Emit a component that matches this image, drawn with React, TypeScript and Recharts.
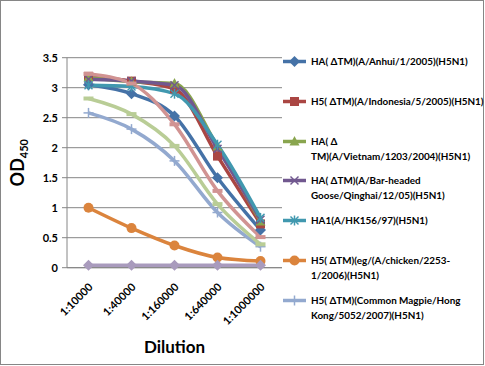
import { LineChart, Line, XAxis, YAxis, CartesianGrid, Legend } from 'recharts'

const dilutions = ['1:10000', '1:40000', '1:160000', '1:640000', '1:1000000']
const yTicks = [0, 0.5, 1, 1.5, 2, 2.5, 3, 3.5]

const anhui = [3.05, 2.9, 2.53, 1.5, 0.63]
const indonesia = [3.19, 3.11, 2.98, 1.86, 0.73]
const vietnam = [3.17, 3.1, 3.07, 2.02, 0.77]
const barHeaded = [3.14, 3.11, 3.04, 1.98, 0.8]
const hk156 = [3.04, 3.02, 2.9, 2.05, 0.83]
const chicken = [1.0, 0.66, 0.37, 0.17, 0.11]
const magpie = [2.58, 2.31, 1.78, 0.92, 0.35]
const series8 = [3.23, 3.07, 2.39, 1.28, 0.51]
const series9 = [2.82, 2.56, 2.03, 1.06, 0.39]
const series10 = [0.04, 0.04, 0.04, 0.04, 0.04]

const seriesNames = [
  'HA( ΔTM)(A/Anhui/1/2005)(H5N1)',
  'H5( ΔTM)(A/Indonesia/5/2005)(H5N1)',
  'HA( Δ\nTM)(A/Vietnam/1203/2004)(H5N1)',
  'HA( ΔTM)(A/Bar-headed\nGoose/Qinghai/12/05)(H5N1)',
  'HA1(A/HK156/97)(H5N1)',
  'H5( ΔTM)(eg/(A/chicken/2253-\n1/2006)(H5N1)',
  'H5( ΔTM)(Common Magpie/Hong\nKong/5052/2007)(H5N1)',
  'Series8',
  'Series9',
  'Series10',
]
const seriesValues = [anhui, indonesia, vietnam, barHeaded, hk156, chicken, magpie, series8, series9, series10]
const colors = ['#4572A7', '#AA4643', '#89A54E', '#71588F', '#4198AF', '#DB843D', '#93A9CF', '#D19392', '#B9CD96', '#A99BBD']
const shapes = ['diamond', 'square', 'triangle', 'x', 'star', 'circle', 'plus', 'dash', 'dash', 'diamond']
const legendCount = 7

const data = dilutions.map((d, i) => {
  const row: Record<string, string | number> = { dilution: d }
  seriesValues.forEach((vals, s) => {
    row['s' + s] = vals[i]
  })
  return row
})

const FONT = 'Lato, "Liberation Sans", sans-serif'

function Marker({ shape, cx, cy, color }: { shape: string; cx: number; cy: number; color: string }) {
  switch (shape) {
    case 'diamond':
      return <polygon points={`${cx},${cy - 5.5} ${cx + 5.5},${cy} ${cx},${cy + 5.5} ${cx - 5.5},${cy}`} fill={color} />
    case 'square':
      return <rect x={cx - 4.5} y={cy - 4.5} width={9} height={9} fill={color} />
    case 'triangle':
      return <polygon points={`${cx},${cy - 5.5} ${cx + 5},${cy + 4} ${cx - 5},${cy + 4}`} fill={color} />
    case 'x':
      return (
        <g stroke={color} strokeWidth={1.5}>
          <line x1={cx - 4} y1={cy - 4} x2={cx + 4} y2={cy + 4} />
          <line x1={cx - 4} y1={cy + 4} x2={cx + 4} y2={cy - 4} />
        </g>
      )
    case 'star':
      return (
        <g stroke={color} strokeWidth={1.5}>
          <line x1={cx - 4} y1={cy - 4} x2={cx + 4} y2={cy + 4} />
          <line x1={cx - 4} y1={cy + 4} x2={cx + 4} y2={cy - 4} />
          <line x1={cx} y1={cy - 5} x2={cx} y2={cy + 5} />
        </g>
      )
    case 'circle':
      return <circle cx={cx} cy={cy} r={5} fill={color} />
    case 'plus':
      return (
        <g stroke={color} strokeWidth={1.5}>
          <line x1={cx - 5} y1={cy} x2={cx + 5} y2={cy} />
          <line x1={cx} y1={cy - 5} x2={cx} y2={cy + 5} />
        </g>
      )
    case 'dash':
      return <line x1={cx - 5} y1={cy} x2={cx + 5} y2={cy} stroke={color} strokeWidth={4} />
    default:
      return null
  }
}

function makeDot(shape: string, color: string) {
  return (props: any) => {
    const { cx, cy, index } = props
    if (cx == null || cy == null) return <g key={index} />
    return (
      <g key={`${shape}-${index}`}>
        <Marker shape={shape} cx={cx} cy={cy} color={color} />
      </g>
    )
  }
}

function XTick({ x, y, payload }: any) {
  const ax = x + 5
  const ay = y + 12
  return (
    <text
      x={ax}
      y={ay}
      transform={`rotate(-45, ${ax}, ${ay})`}
      textAnchor="end"
      fontSize={11}
      fontWeight={700}
      fontFamily={FONT}
      fill="#000"
    >
      {payload.value}
    </text>
  )
}

function LegendBox() {
  return (
    <div style={{ position: 'relative', width: 200, height: 280, fontFamily: FONT }}>
      {seriesNames.slice(0, legendCount).map((name, i) => (
        <div key={name} style={{ position: 'absolute', left: 0, top: i * 39.8, width: 200 }}>
          <svg width={24} height={15} style={{ position: 'absolute', left: 0, top: 0 }}>
            <line x1={0} y1={7.5} x2={23} y2={7.5} stroke={colors[i]} strokeWidth={3.5} />
            <Marker shape={shapes[i]} cx={11.5} cy={7.5} color={colors[i]} />
          </svg>
          <div
            style={{
              position: 'absolute',
              left: 28,
              top: 0,
              width: 176,
              fontSize: 9.9,
              lineHeight: '15px',
              fontWeight: 700,
              color: '#000',
              whiteSpace: 'pre',
              textAlign: 'left',
            }}
          >
            {name}
          </div>
        </div>
      ))}
    </div>
  )
}

export default function App() {
  return (
    <div
      style={{
        position: 'absolute',
        left: 0,
        top: 0,
        width: 484,
        height: 365,
        border: '1px solid #868686',
        boxSizing: 'border-box',
        background: '#fff',
      }}
    >
      <div style={{ position: 'absolute', left: -1, top: -1 }}>
        <LineChart width={485} height={366} data={data} margin={{ top: 57.7, right: 203, bottom: 0, left: 0 }}>
          <CartesianGrid vertical={false} stroke="#868686" strokeWidth={1} />
          <XAxis
            dataKey="dilution"
            height={98.3}
            padding={{ left: 21.5, right: 21.5 }}
            tick={<XTick />}
            tickLine={false}
            axisLine={{ stroke: '#868686' }}
            interval={0}
            label={{
              value: 'Dilution',
              position: 'insideBottom',
              offset: 13,
              fontSize: 17,
              fontWeight: 700,
              fontFamily: FONT,
              fill: '#000',
            }}
          />
          <YAxis
            type="number"
            domain={[0, 3.5]}
            ticks={yTicks}
            width={67}
            tickSize={5}
            tickMargin={4}
            tickLine={{ stroke: '#868686' }}
            axisLine={{ stroke: '#868686' }}
            tick={{ fontSize: 11, fontWeight: 700, fontFamily: FONT, fill: '#000' }}
            label={({ viewBox }: any) => {
              const cx = 24
              const cy = viewBox.y + viewBox.height / 2
              return (
                <text
                  x={cx}
                  y={cy}
                  transform={`rotate(-90, ${cx}, ${cy})`}
                  textAnchor="middle"
                  fontFamily={FONT}
                  fontWeight={700}
                  fill="#000"
                >
                  <tspan fontSize={18}>OD</tspan>
                  <tspan fontSize={11} dy={4}>450</tspan>
                </text>
              )
            }}
          />
          <Legend
            layout="horizontal"
            verticalAlign="middle"
            align="center"
            content={<LegendBox />}
            wrapperStyle={{ position: 'absolute', left: 283, top: 54, width: 202 }}
          />
          {seriesValues.map((_, s) => (
            <Line
              key={s}
              type="monotone"
              dataKey={'s' + s}
              name={seriesNames[s]}
              stroke={colors[s]}
              strokeWidth={3.5}
              dot={makeDot(shapes[s], colors[s])}
              activeDot={false}
              isAnimationActive={false}
            />
          ))}
        </LineChart>
      </div>
    </div>
  )
}
